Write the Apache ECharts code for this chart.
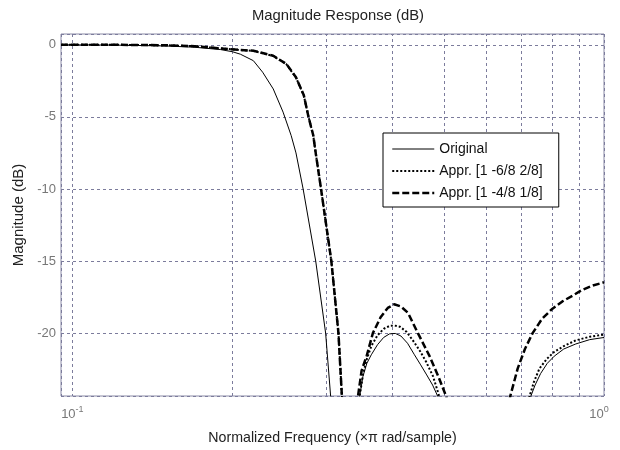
<!DOCTYPE html>
<html>
<head>
<meta charset="utf-8">
<script src="https://cdn.jsdelivr.net/npm/echarts@6/dist/echarts.min.js"></script>
<style>html,body{margin:0;padding:0;background:#fff}#c{width:620px;height:450px}</style>
</head>
<body>
<div id="c"></div>
<script>
// ---- data (normalized frequency, x pi rad/sample ; magnitude in dB) ----
const seriesNames = ['Original', 'Appr. [1 -6/8 2/8]', 'Appr. [1 -4/8 1/8]'];

const origFreq = [0.0952, 0.12, 0.15, 0.17, 0.19, 0.2, 0.207, 0.219, 0.228, 0.2387, 0.2491, 0.258, 0.2634, 0.2717, 0.2869, 0.2995, 0.3061, 0.31, 0.325, 0.34, 0.347, 0.352, 0.358, 0.365, 0.375, 0.385, 0.395, 0.405, 0.415, 0.427, 0.44, 0.452, 0.464, 0.476, 0.487, 0.495, 0.6, 0.715, 0.728, 0.742, 0.76, 0.782, 0.806, 0.84, 0.885, 0.94, 1.0];
const origDb   = [0, -0.02, -0.08, -0.17, -0.33, -0.48, -0.65, -1.1, -1.9, -3.06, -4.67, -6.3, -7.5, -10, -15, -20, -24.4, -27, -40, -28, -24.4, -23.0, -22.1, -21.5, -20.8, -20.3, -20.05, -20.02, -20.2, -20.7, -21.5, -22.2, -22.9, -23.6, -24.4, -25.5, -40, -26.5, -24.4, -23.6, -22.8, -22.1, -21.6, -21.1, -20.75, -20.45, -20.3];

const appr1Freq = [0.0952, 0.12, 0.15, 0.17, 0.19, 0.205, 0.219, 0.2387, 0.2527, 0.2634, 0.2725, 0.2781, 0.2838, 0.2869, 0.2936, 0.307, 0.3166, 0.3214, 0.333, 0.34, 0.347, 0.352, 0.358, 0.365, 0.375, 0.385, 0.395, 0.403, 0.413, 0.425, 0.437, 0.45, 0.463, 0.477, 0.49, 0.498, 0.6, 0.712, 0.724, 0.738, 0.756, 0.78, 0.806, 0.84, 0.885, 0.94, 1.0];
const appr1Db   = [0, 0, -0.03, -0.1, -0.25, -0.35, -0.42, -0.77, -1.35, -2.27, -3.52, -5.0, -6.28, -7.5, -10, -15, -20, -24.4, -40, -27.5, -24.4, -22.9, -21.8, -20.9, -20.15, -19.7, -19.5, -19.47, -19.55, -19.9, -20.5, -21.2, -22.0, -23.0, -24.4, -25.8, -40, -26.0, -24.4, -23.4, -22.46, -21.8, -21.3, -20.9, -20.5, -20.25, -20.1];

const appr2Freq = [0.0952, 0.12, 0.15, 0.17, 0.19, 0.205, 0.219, 0.2387, 0.2527, 0.2634, 0.2725, 0.2781, 0.2838, 0.2869, 0.2936, 0.307, 0.3166, 0.3214, 0.333, 0.3385, 0.3445, 0.35, 0.358, 0.3675, 0.38, 0.392, 0.403, 0.415, 0.428, 0.4466, 0.469, 0.488, 0.505, 0.512, 0.58, 0.655, 0.666, 0.688, 0.71, 0.734, 0.765, 0.8, 0.835, 0.873, 0.91, 0.953, 1.0];
const appr2Db   = [0, 0, -0.03, -0.1, -0.25, -0.35, -0.41, -0.76, -1.33, -2.25, -3.5, -5.0, -6.26, -7.5, -10, -15, -20, -24.4, -40, -28, -24.4, -22.6, -21.54, -20.0, -18.9, -18.25, -18.0, -18.15, -18.6, -20.0, -21.54, -23.0, -24.4, -25.5, -40, -26.0, -24.4, -22.46, -21.1, -20.0, -19.0, -18.3, -17.8, -17.4, -17.0, -16.7, -16.47];

const yTicks = [-20, -15, -10, -5, 0];
const xDecades = [0.1, 1];
const xGridFreqs = [0.2, 0.3, 0.4, 0.5, 0.6, 0.7, 0.8, 0.9];

const xMin = 0.0952, xMax = 1, yMin = -24.36, yMax = 0.75;

function pairs(f, d) { return f.map((v, i) => [v, d[i]]); }

const gridColor = '#7c7c9c';
const frameColor = '#8a8aa6';
const FONT = '"Liberation Sans", Arial, Helvetica, sans-serif';
const CLEAR = 'rgba(0,0,0,0)';

const chart = echarts.init(document.getElementById('c'), null, { renderer: 'canvas' });
chart.setOption({
  animation: false,
  backgroundColor: '#ffffff',
  title: {
    text: 'Magnitude Response (dB)',
    left: 333, top: 3, textAlign: 'center',
    textStyle: { fontFamily: FONT, fontSize: 14.8, fontWeight: 'normal', color: '#222' }
  },
  grid: {
    left: 61, right: 16, top: 34, bottom: 53,
    show: true, borderColor: frameColor, borderWidth: 1, backgroundColor: 'transparent'
  },
  legend: {
    orient: 'vertical', left: 383, top: 133, z: 20,
    data: [
      { name: seriesNames[0], lineStyle: { width: 1 } },
      { name: seriesNames[1], lineStyle: { width: 2 } },
      { name: seriesNames[2], lineStyle: { width: 2.5 } }
    ],
    itemWidth: 42, itemHeight: 14, itemGap: 8,
    padding: [9, 16, 7, 8],
    borderColor: '#000', borderWidth: 1, backgroundColor: '#fff',
    textStyle: { fontFamily: FONT, fontSize: 14, color: '#111' }
  },
  xAxis: {
    type: 'log', logBase: 10, min: xMin, max: xMax,
    name: 'Normalized Frequency (\u00d7\u03c0 rad/sample)',
    nameLocation: 'middle', nameGap: 35,
    nameTextStyle: { fontFamily: FONT, fontSize: 14.2, color: '#222' },
    axisLine: { show: false },
    axisTick: { show: false },
    splitLine: { show: true, lineStyle: { color: gridColor, type: [3, 3], width: 1 } },
    axisLabel: {
      margin: 9, color: '#777', fontFamily: FONT,
      showMinLabel: false,
      formatter: function (v) {
        if (Math.abs(v - xDecades[0]) < 1e-6) return '{b|10}{s|-1}';
        if (Math.abs(v - xDecades[1]) < 1e-6) return '{b|10}{s|0}{p|}';
        return '';
      },
      rich: {
        b: { fontFamily: FONT, fontSize: 13, color: '#777' },
        s: { fontFamily: FONT, fontSize: 9, color: '#777', padding: [0, 0, 9, 0] },
        p: { width: 10 }
      }
    }
  },
  yAxis: {
    type: 'value', min: yMin, max: yMax, splitNumber: 5,
    name: 'Magnitude (dB)', nameLocation: 'middle', nameGap: 34,
    nameTextStyle: { fontFamily: FONT, fontSize: 15, color: '#222' },
    axisLine: { show: false },
    axisTick: { show: false },
    splitLine: { show: true, lineStyle: { color: gridColor, type: [3, 3], width: 1 } },
    axisLabel: {
      margin: 5, color: '#777', fontFamily: FONT, fontSize: 13,
      showMinLabel: false, showMaxLabel: false,
      formatter: function (v) { return yTicks.indexOf(Math.round(v)) >= 0 && Math.abs(v - Math.round(v)) < 1e-6 ? String(Math.round(v)) : ''; }
    }
  },
  series: [
    {
      name: seriesNames[0], type: 'line', symbol: 'none', clip: true,
      data: pairs(origFreq, origDb),
      lineStyle: { color: '#000', width: 1, type: 'solid' },
      itemStyle: { color: CLEAR, borderColor: CLEAR },
      markLine: {
        silent: true, symbol: 'none', label: { show: false },
        lineStyle: { color: gridColor, type: [3, 3], width: 1 },
        data: xGridFreqs.map(f => ({ xAxis: f }))
      },
      z: 5
    },
    {
      name: seriesNames[1], type: 'line', symbol: 'none', clip: true,
      data: pairs(appr1Freq, appr1Db),
      lineStyle: { color: '#000', width: 2, type: [2, 2] },
      itemStyle: { color: CLEAR, borderColor: CLEAR },
      z: 6
    },
    {
      name: seriesNames[2], type: 'line', symbol: 'none', clip: true,
      data: pairs(appr2Freq, appr2Db),
      lineStyle: { color: '#000', width: 2.5, type: [7, 3] },
      itemStyle: { color: CLEAR, borderColor: CLEAR },
      z: 7
    }
  ]
});
</script>
</body>
</html>
